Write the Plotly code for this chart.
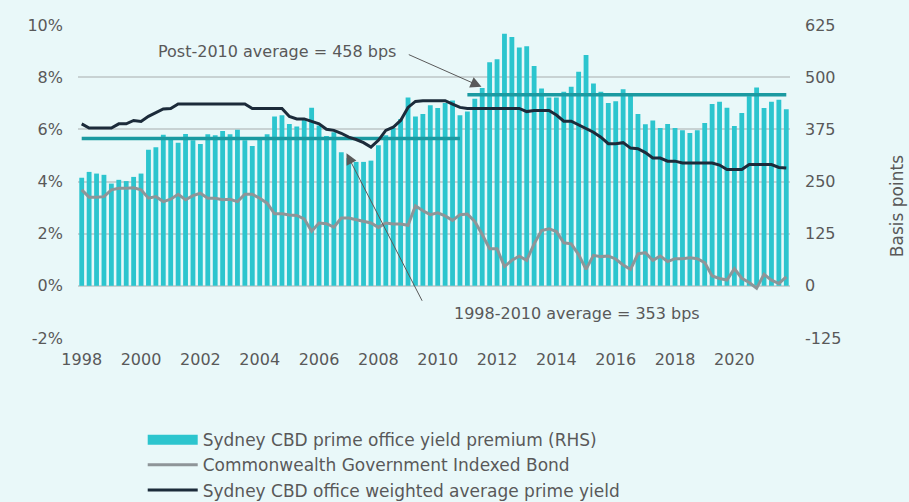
import plotly.graph_objects as go

years = list(range(1998, 2022))
quarters = [f"{y}Q{q}" for y in years for q in range(1, 5)]
tick_years = [str(y) for y in years[::2]]

# Axis tick labels
pct_ticks = [-2, 0, 2, 4, 6, 8, 10]
pct_labels = ["-2%", "0%", "2%", "4%", "6%", "8%", "10%"]
bps_ticks = [-125, 0, 125, 250, 375, 500, 625]
bps_labels = ["-125", "0", "125", "250", "375", "500", "625"]

# Sydney CBD prime office yield premium (bps, RHS)
premium_bps = [
    259, 273, 269, 266, 245, 254, 251, 261, 269, 326, 332, 362, 353, 343, 364, 349,
    340, 363, 361, 371, 363, 374, 349, 335, 353, 363, 406, 409, 388, 382, 399, 427,
    384, 359, 368, 320, 306, 297, 297, 300, 337, 361, 378, 400, 451, 406, 412, 433,
    426, 438, 444, 409, 418, 448, 474, 536, 543, 604, 596, 571, 574, 527, 473, 451,
    451, 465, 477, 513, 553, 485, 465, 438, 442, 471, 462, 412, 387, 396, 378, 388,
    378, 373, 366, 373, 390, 436, 441, 427, 383, 414, 454, 475, 426, 441, 446, 423,
]

# Commonwealth Government Indexed Bond (%)
bond_pct = [
    3.68, 3.40, 3.40, 3.42, 3.68, 3.74, 3.74, 3.76, 3.68, 3.36, 3.42, 3.23, 3.32, 3.51, 3.30, 3.46,
    3.55, 3.36, 3.36, 3.30, 3.32, 3.23, 3.51, 3.51, 3.36, 3.17, 2.76, 2.76, 2.72, 2.70, 2.57, 2.09,
    2.41, 2.38, 2.25, 2.60, 2.60, 2.53, 2.47, 2.41, 2.24, 2.41, 2.37, 2.37, 2.32, 3.07, 2.88, 2.73,
    2.80, 2.68, 2.51, 2.73, 2.75, 2.47, 1.97, 1.42, 1.42, 0.74, 0.98, 1.14, 0.98, 1.61, 2.12, 2.19,
    2.08, 1.65, 1.61, 1.20, 0.63, 1.17, 1.12, 1.14, 1.03, 0.80, 0.63, 1.23, 1.27, 0.98, 1.14, 0.93,
    1.04, 1.04, 1.08, 1.04, 0.89, 0.38, 0.28, 0.22, 0.66, 0.29, 0.13, -0.09, 0.44, 0.22, 0.09, 0.34,
]

# Sydney CBD office weighted average prime yield (%)
prime_pct = [
    6.21, 6.05, 6.05, 6.05, 6.05, 6.21, 6.21, 6.34, 6.30, 6.50, 6.65, 6.78, 6.80, 6.97, 6.97, 6.97,
    6.97, 6.97, 6.97, 6.97, 6.97, 6.97, 6.97, 6.80, 6.80, 6.80, 6.80, 6.80, 6.49, 6.40, 6.40, 6.31,
    6.21, 6.00, 5.96, 5.85, 5.70, 5.61, 5.49, 5.32, 5.58, 5.96, 6.08, 6.34, 6.84, 7.07, 7.10, 7.10,
    7.10, 7.10, 6.97, 6.84, 6.80, 6.80, 6.80, 6.80, 6.80, 6.80, 6.80, 6.80, 6.68, 6.72, 6.72, 6.72,
    6.55, 6.31, 6.31, 6.17, 6.05, 5.89, 5.70, 5.45, 5.45, 5.49, 5.28, 5.26, 5.11, 4.90, 4.90, 4.78,
    4.78, 4.71, 4.71, 4.71, 4.71, 4.71, 4.63, 4.46, 4.46, 4.46, 4.65, 4.65, 4.65, 4.65, 4.54, 4.52,
]

avg_pre_2010 = 353
avg_post_2010 = 458
pre_x = [quarters[0], quarters[51]]
post_x = [quarters[52], quarters[-1]]

BG = "#E9F8F9"
TXT = "#595959"
FONT = "DejaVu Sans"
BAR = "#2CC5CE"
AVG = "#1B9AA1"
BLACK = "#1C2B3A"
GREY = "#8E9598"

fig = go.Figure()

fig.add_trace(go.Bar(
    x=quarters, y=premium_bps, name="Sydney CBD prime office yield premium (RHS)",
    marker=dict(color=BAR, line=dict(width=0)), yaxis="y", showlegend=False,
))
fig.add_trace(go.Scatter(
    x=pre_x, y=[avg_pre_2010] * 2, mode="lines", line=dict(color=AVG, width=3.5),
    showlegend=False, yaxis="y", hoverinfo="skip",
))
fig.add_trace(go.Scatter(
    x=post_x, y=[avg_post_2010] * 2, mode="lines", line=dict(color=AVG, width=3.5),
    showlegend=False, yaxis="y", hoverinfo="skip",
))
# legend swatch for the bar series (wide rectangle like the original)
fig.add_trace(go.Scatter(
    x=[None], y=[None], mode="lines", name="Sydney CBD prime office yield premium (RHS)",
    line=dict(color=BAR, width=14), yaxis="y",
))
fig.add_trace(go.Scatter(
    x=quarters, y=bond_pct, name="Commonwealth Government Indexed Bond",
    mode="lines", line=dict(color=GREY, width=3), yaxis="y2",
))
fig.add_trace(go.Scatter(
    x=quarters, y=prime_pct, name="Sydney CBD office weighted average prime yield",
    mode="lines", line=dict(color=BLACK, width=3), yaxis="y2",
))

ann_font = dict(family=FONT, size=16, color=TXT)
annotations = [
    dict(x=53.9, y=7.63, xref="x", yref="y2", ax=43.9, ay=8.89, axref="x", ayref="y2",
         text="", showarrow=True, arrowhead=2, arrowsize=2.2, arrowwidth=1, arrowcolor=TXT),
    dict(x=35.7, y=5.08, xref="x", yref="y2", ax=46.0, ay=-0.63, axref="x", ayref="y2",
         text="", showarrow=True, arrowhead=2, arrowsize=2.2, arrowwidth=1, arrowcolor=TXT),
    dict(x=26.3, y=8.98, xref="x", yref="y2", text="Post-2010 average = 458 bps",
         showarrow=False, font=ann_font),
    dict(x=66.8, y=-1.06, xref="x", yref="y2", text="1998-2010 average = 353 bps",
         showarrow=False, font=ann_font),
    dict(x=1.167, y=0.421, xref="paper", yref="paper", text="Basis points", textangle=-90,
         showarrow=False, font=dict(family=FONT, size=17, color=TXT)),
]

fig.update_layout(
    width=909, height=502,
    margin=dict(l=78, r=119, t=25, b=164, autoexpand=False),
    paper_bgcolor=BG, plot_bgcolor=BG,
    font=dict(family=FONT, size=16, color=TXT),
    bargap=0.35,
    showlegend=True,
    legend=dict(x=0.157, y=0.159, xref="container", yref="container",
                xanchor="left", yanchor="top", itemwidth=50,
                font=dict(family=FONT, size=17, color=TXT),
                bgcolor="rgba(0,0,0,0)", traceorder="normal"),
    xaxis=dict(type="category", categoryorder="array", categoryarray=quarters,
               tickvals=quarters[::8], ticktext=tick_years, range=[-0.5, 95.5],
               showgrid=False, zeroline=False, showline=False, ticks="",
               ticklabelstandoff=10, automargin=False,
               tickfont=dict(family=FONT, size=16, color=TXT)),
    yaxis=dict(side="right", range=[-125, 625], tickvals=bps_ticks, ticktext=bps_labels,
               showgrid=True, gridcolor="#C8D2D3", gridwidth=1.5, zeroline=False,
               ticks="", ticklabelstandoff=14, automargin=False,
               tickfont=dict(family=FONT, size=16, color=TXT)),
    yaxis2=dict(overlaying="y", side="left", range=[-2, 10], tickvals=pct_ticks,
                ticktext=pct_labels, showgrid=False, zeroline=False, ticks="",
                ticklabelstandoff=14, automargin=False,
                tickfont=dict(family=FONT, size=16, color=TXT)),
    annotations=annotations,
)

fig.write_html(
    "out.html",
    config={"displayModeBar": False},
    post_script="document.body.style.margin='0';document.body.style.background='#E9F8F9';",
)
